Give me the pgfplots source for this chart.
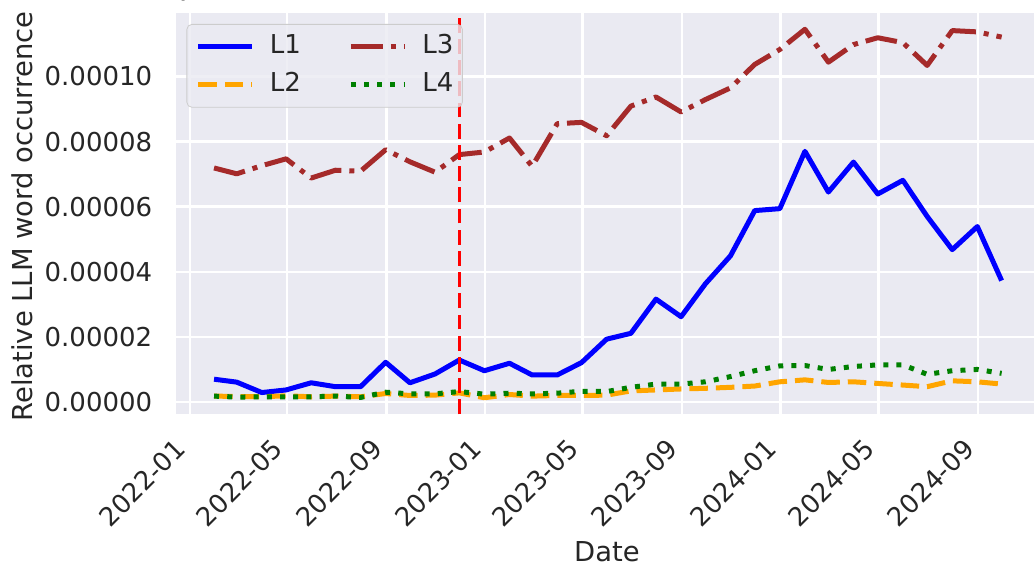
\documentclass[border=0pt]{standalone}
\usepackage{fontspec}
\setmainfont{DejaVu Sans}
\usepackage{pgfplots}
\pgfplotsset{compat=1.18}

\definecolor{bgcol}{HTML}{EAEAF2}
\definecolor{txtcol}{HTML}{262626}
\definecolor{cbrown}{HTML}{A52A2A}
\definecolor{corange}{HTML}{FFA500}
\definecolor{cgreen}{HTML}{008000}

\newcommand\tickfont{\fontsize{13}{15.6}\selectfont}
\newcommand\labfont{\fontsize{13.7}{16.5}\selectfont}

% x = days since 2022-01-01, points at month ends
\begin{document}
\begin{tikzpicture}
\begin{axis}[
  at={(0,0)}, anchor=south west,
  scale only axis, width=429pt, height=200.8pt,
  xmin=-17, xmax=1043, ymin=-3.78e-6, ymax=1.196e-4,
  axis background/.style={fill=bgcol},
  axis line style={draw=none},
  grid=major, major grid style={white, line width=1.2pt},
  major tick length=0pt,
  xtick={0,120,243,365,485,608,730,851,974},
  xticklabels={2022-01,2022-05,2022-09,2023-01,2023-05,2023-09,2024-01,2024-05,2024-09},
  ytick={0,2e-5,4e-5,6e-5,8e-5,1e-4},
  yticklabels={0.00000,0.00002,0.00004,0.00006,0.00008,0.00010},
  /pgf/number format/assume math mode=true,
  tick label style={font=\tickfont, text=txtcol},
  xticklabel style={inner sep=0pt, xshift=-8pt, yshift=-11.35pt, rotate=45, anchor=north east},
  yticklabel style={inner sep=0pt, xshift=-11.7pt, anchor=east},
  xlabel={Date},
  ylabel={Relative LLM word occurrence},
  label style={font=\labfont, text=txtcol, inner sep=0pt},
  xlabel style={at={(axis description cs:0.5023,0)}, anchor=base, yshift=-73.85pt},
  ylabel style={at={(axis description cs:-0.1667,0.4925)}, anchor=base},
  every axis plot/.append style={line width=2.5pt, line join=round},
  legend columns=2,
  legend cell align=left,
  legend image code/.code={\draw[#1] (0pt,0pt) -- (27pt,0pt);},
  legend style={
    at={(axis description cs:0,1)}, anchor=north west, xshift=5.25pt, yshift=-5.65pt,
    draw=black!20, fill=bgcol, fill opacity=0.8, draw opacity=1, text opacity=1,
    rounded corners=2.5pt, inner xsep=4.5pt, inner ysep=5pt,
    column sep=7.5pt, row sep=6.55pt,
    font=\tickfont, text=txtcol,
    nodes={inner sep=0pt, text depth=2.8pt},
    /tikz/every even column/.append style={column sep=23.7pt},
  },
]
\addplot[blue] coordinates {
(30,7.0e-6) (58,6.1e-6) (89,2.9e-6) (119,3.7e-6) (150,5.9e-6) (180,4.7e-6)
(211,4.7e-6) (242,12.2e-6) (272,5.9e-6) (303,8.6e-6) (333,12.9e-6) (364,9.6e-6)
(395,11.9e-6) (423,8.3e-6) (454,8.3e-6) (484,12.1e-6) (515,19.3e-6) (545,21.1e-6)
(576,31.6e-6) (607,26.2e-6) (637,36.3e-6) (668,44.9e-6) (698,58.8e-6) (729,59.4e-6)
(760,77.0e-6) (789,64.5e-6) (820,73.7e-6) (850,63.9e-6) (881,68.1e-6) (911,57.0e-6)
(942,46.8e-6) (973,53.9e-6) (1003,37.3e-6)
};
\addlegendentry{L1}
\addplot[cbrown, dash pattern=on 16pt off 4pt on 2.5pt off 4pt] coordinates {
(30,71.9e-6) (58,70.1e-6) (89,72.6e-6) (119,74.7e-6) (150,68.8e-6) (180,71.2e-6)
(211,70.9e-6) (242,77.5e-6) (272,73.8e-6) (303,70.6e-6) (333,76.0e-6) (364,76.8e-6)
(395,81.1e-6) (423,72.4e-6) (454,85.5e-6) (484,85.9e-6) (515,81.8e-6) (545,90.9e-6)
(576,93.7e-6) (607,89.1e-6) (637,92.9e-6) (668,96.5e-6) (698,103.7e-6) (729,108.3e-6)
(760,114.5e-6) (789,104.4e-6) (820,109.8e-6) (850,111.9e-6) (881,110.4e-6) (911,103.4e-6)
(942,114.1e-6) (973,113.7e-6) (1003,112.1e-6)
};
\addlegendentry{L3}
\addplot[corange, dash pattern=on 9.25pt off 4pt] coordinates {
(30,1.8e-6) (58,1.7e-6) (89,1.6e-6) (119,1.9e-6) (150,1.6e-6) (180,1.8e-6)
(211,1.6e-6) (242,2.6e-6) (272,2.0e-6) (303,2.1e-6) (333,2.8e-6) (364,1.3e-6)
(395,2.3e-6) (423,1.8e-6) (454,2.0e-6) (484,2.0e-6) (515,2.1e-6) (545,3.4e-6)
(576,3.7e-6) (607,4.0e-6) (637,4.2e-6) (668,4.5e-6) (698,4.9e-6) (729,6.2e-6)
(760,6.8e-6) (789,6.0e-6) (820,6.2e-6) (850,5.7e-6) (881,5.2e-6) (911,4.7e-6)
(942,6.5e-6) (973,6.2e-6) (1003,5.5e-6)
};
\addlegendentry{L2}
\addplot[cgreen, dash pattern=on 2.5pt off 4.1pt] coordinates {
(30,1.8e-6) (58,1.5e-6) (89,1.6e-6) (119,1.6e-6) (150,1.6e-6) (180,1.8e-6)
(211,1.4e-6) (242,3.0e-6) (272,2.5e-6) (303,2.5e-6) (333,3.2e-6) (364,2.4e-6)
(395,2.7e-6) (423,2.5e-6) (454,2.7e-6) (484,3.3e-6) (515,3.2e-6) (545,4.5e-6)
(576,5.5e-6) (607,5.5e-6) (637,6.2e-6) (668,7.8e-6) (698,9.6e-6) (729,11.1e-6)
(760,11.2e-6) (789,10.0e-6) (820,10.9e-6) (850,11.4e-6) (881,11.4e-6) (911,8.5e-6)
(942,9.6e-6) (973,10.0e-6) (1003,8.8e-6)
};
\addlegendentry{L4}
% ChatGPT release, 2022-11-30
\addplot[red, line width=1.8pt, dash pattern=on 7.4pt off 3.2pt, forget plot]
  coordinates {(333,-3.78e-6) (333,1.196e-4)};
\end{axis}
\pgfresetboundingbox
\path[use as bounding box] (-88pt,-75.35pt) rectangle (429pt,207.15pt);
\end{tikzpicture}
\end{document}
